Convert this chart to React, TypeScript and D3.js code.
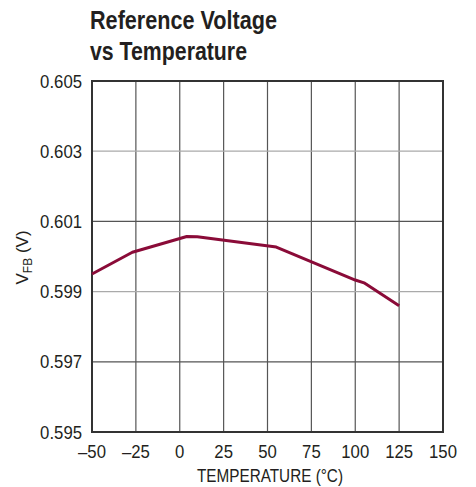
import * as d3 from "d3";
import { useEffect, useRef } from "react";

const WIDTH = 476;
const HEIGHT = 487;
const MARGIN = { top: 81, right: 33, bottom: 55, left: 92 };
const FONT = "'Liberation Sans', Arial, sans-serif";
const SQUEEZE = 0.93;

const TITLE = ["Reference Voltage", "vs Temperature"];
const TITLE_LEN = [187, 157];
const X_TICKS = [-50, -25, 0, 25, 50, 75, 100, 125, 150];
const Y_TICKS = [0.595, 0.597, 0.599, 0.601, 0.603, 0.605];

// temperature (°C) / feedback voltage (V)
const TEMP = [-50, -27, 4, 10, 55, 100, 105, 125];
const VFB = [0.5995, 0.60012, 0.60057, 0.60056, 0.60027, 0.59933, 0.59925, 0.5986];

export default function App() {
  const svgRef = useRef<SVGSVGElement>(null);

  useEffect(() => {
    if (!svgRef.current) return;
    const svg = d3.select(svgRef.current);
    svg.selectAll("*").remove();

    const x = d3
      .scaleLinear()
      .domain([-50, 150])
      .range([MARGIN.left, WIDTH - MARGIN.right]);
    const y = d3
      .scaleLinear()
      .domain([0.595, 0.605])
      .range([HEIGHT - MARGIN.bottom, MARGIN.top]);

    // titulo
    svg
      .append("g")
      .selectAll("text")
      .data(TITLE)
      .enter()
      .append("text")
      .attr("x", 90)
      .attr("y", (_, i) => 29 + i * 31)
      .attr("font-family", FONT)
      .attr("font-weight", "bold")
      .attr("font-size", 25)
      .attr("fill", "#231f20")
      .attr("textLength", (_, i) => TITLE_LEN[i])
      .attr("lengthAdjust", "spacingAndGlyphs")
      .text((d) => d);

    // rejilla
    const grid = svg.append("g");
    grid
      .selectAll("line.v")
      .data(X_TICKS.slice(1, -1))
      .enter()
      .append("line")
      .attr("x1", (d) => x(d))
      .attr("x2", (d) => x(d))
      .attr("y1", y(0.605))
      .attr("y2", y(0.595))
      .attr("stroke", "#555")
      .attr("stroke-width", 1.2);
    grid
      .selectAll("line.h")
      .data(Y_TICKS.slice(1, -1))
      .enter()
      .append("line")
      .attr("x1", x(-50))
      .attr("x2", x(150))
      .attr("y1", (d) => y(d))
      .attr("y2", (d) => y(d))
      .attr("stroke", (_, i) => (i % 2 === 0 ? "#555" : "#aaa"))
      .attr("stroke-width", 1.2);

    // borde
    svg
      .append("rect")
      .attr("x", x(-50))
      .attr("y", y(0.605))
      .attr("width", x(150) - x(-50))
      .attr("height", y(0.595) - y(0.605))
      .attr("fill", "none")
      .attr("stroke", "#333")
      .attr("stroke-width", 2);

    // curva
    const line = d3
      .line<number>()
      .x((d) => x(d))
      .y((_, i) => y(VFB[i]));
    svg
      .append("path")
      .attr("d", line(TEMP))
      .attr("fill", "none")
      .attr("stroke", "#8a0b38")
      .attr("stroke-width", 3)
      .attr("stroke-linejoin", "round");

    // etiquetas
    svg
      .append("g")
      .selectAll("text")
      .data(X_TICKS)
      .enter()
      .append("text")
      .attr("transform", (d) => `translate(${x(d)}, 458) scale(${SQUEEZE}, 1)`)
      .attr("text-anchor", "middle")
      .attr("font-family", FONT)
      .attr("font-size", 18)
      .attr("fill", "#231f20")
      .text((d) => (d < 0 ? `\u2013${-d}` : `${d}`));

    svg
      .append("g")
      .selectAll("text")
      .data(Y_TICKS)
      .enter()
      .append("text")
      .attr("transform", (d) => `translate(82, ${y(d) + 6.5}) scale(${SQUEEZE}, 1)`)
      .attr("text-anchor", "end")
      .attr("font-family", FONT)
      .attr("font-size", 18)
      .attr("fill", "#231f20")
      .text((d) => d3.format(".3f")(d));

    svg
      .append("text")
      .attr("x", 197)
      .attr("y", 482)
      .attr("font-family", FONT)
      .attr("font-size", 18)
      .attr("fill", "#231f20")
      .attr("textLength", 146)
      .attr("lengthAdjust", "spacingAndGlyphs")
      .text("TEMPERATURE (°C)");

    const yl = svg
      .append("text")
      .attr("transform", `translate(28, 257.5) rotate(-90)`)
      .attr("text-anchor", "middle")
      .attr("font-family", FONT)
      .attr("font-size", 17)
      .attr("fill", "#231f20");
    yl.append("tspan").text("V");
    yl.append("tspan").attr("font-size", 12).attr("dy", 4).text("FB");
    yl.append("tspan").attr("dy", -4).text(" (V)");
  }, []);

  return (
    <svg
      ref={svgRef}
      width={WIDTH}
      height={HEIGHT}
      style={{ position: "absolute", left: 0, top: 0, background: "#fff" }}
    ></svg>
  );
}
